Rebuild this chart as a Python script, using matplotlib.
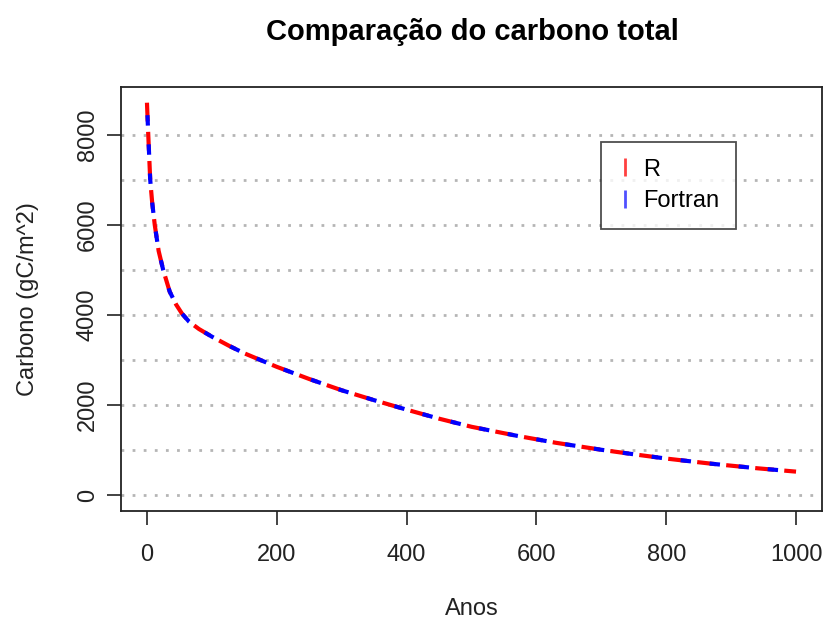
import numpy as np
import matplotlib
matplotlib.use("Agg")
import matplotlib.pyplot as plt
from matplotlib.lines import Line2D

plt.rcParams["font.family"] = ["Liberation Sans", "DejaVu Sans"]

# valores
anos = [0, 1, 2, 5, 8, 12, 18, 25, 35, 45, 54, 65, 80, 100, 126, 150,
        200, 250, 300, 350, 400, 450, 500, 570, 630, 700, 750, 800, 870, 940, 1000]
carbono_r = [8710, 8350, 8000, 7000, 6500, 6000, 5420, 5000, 4520, 4230, 4030,
             3850, 3690, 3520, 3320, 3150, 2850, 2580, 2330, 2110, 1900, 1700,
             1520, 1320, 1165, 1010, 910, 815, 700, 600, 525]
carbono_fortran = [8710, 8350, 8000, 7000, 6500, 6000, 5420, 5000, 4520, 4230, 4030,
                   3850, 3690, 3520, 3320, 3150, 2850, 2580, 2330, 2110, 1900, 1700,
                   1520, 1320, 1165, 1010, 910, 815, 700, 600, 525]

x_ticks = [0, 200, 400, 600, 800, 1000]
y_ticks = [0, 2000, 4000, 6000, 8000]
grid_y = np.arange(0, 9000, 1000)

fig = plt.figure(figsize=(8.24, 6.23), dpi=100)
ax = fig.add_axes([121 / 824, 1 - 511 / 623, (822 - 121) / 824, (511 - 87) / 623])

for g in grid_y:
    ax.axhline(g, color="#b5b5b5", linewidth=2, linestyle=(0, (1, 3)), zorder=1)

ax.plot(anos, carbono_r, color="red", linewidth=3.0, linestyle=(0, (4.5, 2.5)), zorder=2)
ax.plot(anos, carbono_fortran, color="blue", linewidth=3.0, linestyle=(4, (2.5, 4.5)), zorder=3)

ymax = max(carbono_r)
ax.set_xlim(-40, 1040)
ax.set_ylim(-0.04 * ymax, 1.04 * ymax)
ax.set_xticks(x_ticks)
ax.set_yticks(y_ticks)
ax.set_yticklabels([str(v) for v in y_ticks], rotation=90, va="center")
ax.tick_params(axis="both", labelsize=17, length=10, width=1.2, color="#222222",
               labelcolor="#222222")
ax.tick_params(axis="x", pad=14)
ax.tick_params(axis="y", pad=6)
for s in ax.spines.values():
    s.set_linewidth(1.3)
    s.set_color("#222222")

ax.set_xlabel("Anos", fontsize=17, color="#222222", labelpad=23)
ax.set_ylabel("Carbono (gC/m^2)", fontsize=17, color="#222222", labelpad=27)
fig.text(0.5735, 1 - 32 / 623, "Comparação do carbono total", fontsize=21,
         fontweight="bold", ha="center", va="center")

handles = [Line2D([], [], color="#ff4040", marker="|", linestyle="None",
                  markersize=13, markeredgewidth=2),
           Line2D([], [], color="#5050ff", marker="|", linestyle="None",
                  markersize=13, markeredgewidth=2)]
leg = ax.legend(handles, ["R", "Fortran"], loc="upper left",
                bbox_to_anchor=(601 / 824, 1 - 142 / 623), bbox_transform=fig.transFigure,
                fontsize=17, frameon=True, fancybox=False, borderpad=0.7,
                handlelength=0.6, handletextpad=0.5, labelspacing=0.4,
                borderaxespad=0)
leg.get_frame().set_edgecolor("#222222")
leg.get_frame().set_linewidth(1.3)

fig.savefig("out.png", dpi=100)
